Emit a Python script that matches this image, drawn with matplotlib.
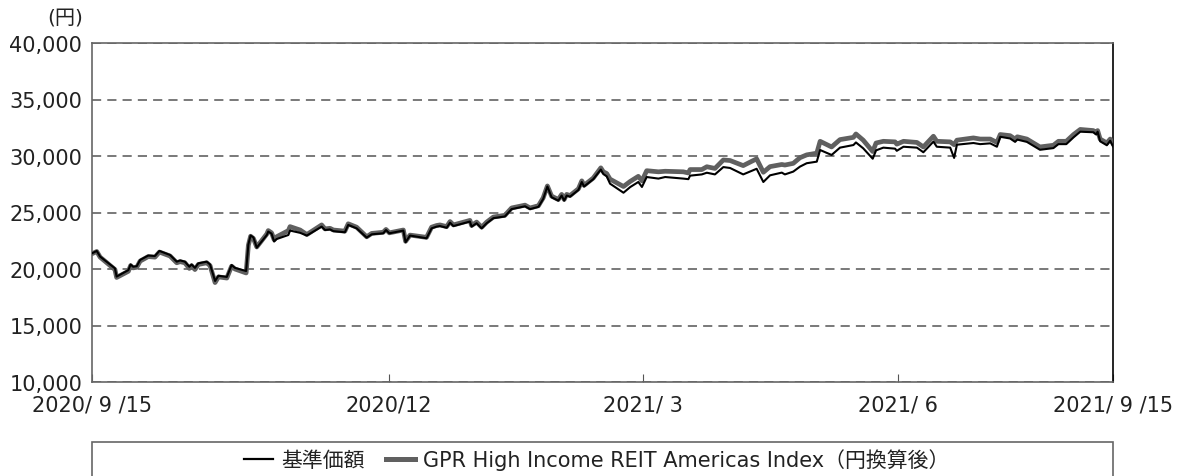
import matplotlib.pyplot as plt
from matplotlib.patches import Rectangle
from matplotlib.lines import Line2D

plt.rcParams['font.family'] = ['DejaVu Sans', 'Noto Sans CJK JP']

# days since 2020/9/15 (axis runs 0..365)
days = [0, 1.7, 2.9, 8.2, 8.8, 13.0, 13.8, 14.7, 16.0, 17.2, 20.1, 22.5, 24.1,
        27.9, 30.3, 31.5, 33.2, 34.8, 35.6, 36.8, 38.0, 41.0, 42.2, 44.0, 45.2,
        48.2, 49.9, 51.1, 55.1, 55.9, 56.7, 57.7, 58.9, 62.5, 63.0, 64.2, 65.1,
        66.0, 70.2, 70.8, 74.4, 76.8, 82.1, 83.3, 85.1, 86.3, 90.4, 91.6, 94.6,
        98.2, 100.0, 104.1, 105.1, 106.3, 111.3, 112.1, 113.7, 119.6, 121.4,
        123.2, 124.4, 126.8, 128.0, 129.2, 135.1, 135.7, 137.5, 139.3, 141.1,
        143.5, 147.6, 150.0, 154.8, 156.6, 159.6, 161.3, 162.8, 164.3, 166.7,
        167.9, 168.8, 169.7, 170.9, 173.9, 175.1, 175.9, 179.2, 181.9, 182.8,
        184.0, 185.2, 190.0, 192.4, 195.3, 196.6, 198.3, 202.5, 204.9, 211.4,
        213.2, 213.8, 218.0, 219.8, 222.7, 225.7, 228.1, 232.8, 237.6, 240.0,
        242.4, 246.6, 247.7, 250.7, 253.1, 255.5, 259.1, 260.3, 264.4, 267.4,
        272.2, 273.1, 275.7, 279.1, 280.3, 282.9, 287.1, 287.7, 290.1, 294.9,
        297.2, 300.8, 302.0, 306.8, 308.2, 309.2, 315.1, 317.5, 321.1, 323.5,
        324.7, 328.2, 330.0, 330.8, 334.2, 338.9, 343.7, 345.5, 348.3, 350.9,
        353.3, 358.0, 359.0, 359.5, 360.4, 362.8, 364.0, 365.0]

nav = [21390, 21600, 21100, 20060, 19330, 19900, 20400, 20200, 20250, 20800,
       21190, 21150, 21600, 21240, 20650, 20760, 20650, 20200, 20400, 20100,
       20500, 20650, 20400, 18940, 19400, 19300, 20350, 20100, 19820, 22190,
       22960, 22800, 21890, 23010, 23310, 23130, 22430, 22650, 23010, 23400,
       23200, 22960, 23750, 23450, 23500, 23350, 23250, 23900, 23600, 22780,
       23070, 23160, 23450, 23160, 23400, 22370, 22960, 22720, 23600, 23750,
       23800, 23650, 24100, 23800, 24200, 23750, 24050, 23600, 24050, 24500,
       24650, 25300, 25550, 25300, 25500, 26200, 27300, 26350, 26050, 26500,
       26050, 26500, 26400, 27000, 27700, 27300, 27950, 28800, 28400, 28200,
       27550, 26750, 27250, 27700, 27260, 28140, 28000, 28140, 28000, 27950,
       28260, 28370, 28520, 28370, 29020, 28940, 28370, 28870, 27700, 28290,
       28530, 28370, 28620, 29060, 29360, 29500, 30530, 30090, 30740, 30970,
       31200, 30680, 29760, 30500, 30740, 30650, 30460, 30820, 30740, 30330,
       31270, 30820, 30740, 29830, 31000, 31150, 31050, 31120, 30820, 31700,
       31550, 31250, 31450, 31250, 30550, 30700, 31050, 31050, 31650, 32150,
       32100, 31900, 32150, 31300, 30950, 31350, 30850]

index = [21350, 21550, 21050, 19950, 19250, 19800, 20300, 20100, 20150, 20700,
         21100, 21050, 21500, 21150, 20550, 20650, 20550, 20050, 20300, 19950,
         20400, 20550, 20300, 18800, 19300, 19200, 20250, 20000, 19650, 22100,
         22900, 22700, 21950, 23100, 23400, 23200, 22600, 22850, 23400, 23750,
         23450, 23050, 23900, 23550, 23600, 23450, 23350, 24000, 23700, 22850,
         23150, 23250, 23500, 23200, 23450, 22450, 23000, 22800, 23700, 23850,
         23900, 23750, 24200, 23900, 24300, 23850, 24150, 23700, 24150, 24600,
         24750, 25400, 25650, 25400, 25600, 26300, 27350, 26450, 26150, 26600,
         26150, 26600, 26500, 27100, 27800, 27400, 28050, 28950, 28600, 28450,
         27950, 27300, 27750, 28200, 27800, 28700, 28600, 28650, 28600, 28500,
         28800, 28800, 29050, 28900, 29650, 29600, 29150, 29750, 28560, 29060,
         29250, 29200, 29350, 29850, 30100, 30250, 31300, 30800, 31450, 31650,
         31950, 31400, 30400, 31150, 31300, 31250, 31050, 31300, 31200, 30800,
         31750, 31300, 31250, 31000, 31400, 31600, 31500, 31500, 31200, 31900,
         31800, 31500, 31700, 31500, 30800, 30950, 31300, 31300, 31900, 32350,
         32250, 32050, 32250, 31500, 31150, 31500, 31100]

tick_days = [0, 106, 197, 288, 365]
tick_labels = ['2020/ 9 /15', '2020/12', '2021/ 3', '2021/ 6', '2021/ 9 /15']
y_ticks = [10000, 15000, 20000, 25000, 30000, 35000, 40000]

fig = plt.figure(figsize=(11.88, 4.77), dpi=100)
ax = fig.add_axes([92 / 1188, 94 / 477, 1021 / 1188, 339 / 477])

ax.plot(days, index, color='#606060', lw=3.4, zorder=3)
ax.plot(days, nav, color='black', lw=1.5, zorder=4)

ax.set_xlim(0, 365)
ax.set_ylim(10000, 40000)
ax.set_yticks(y_ticks)
ax.set_yticklabels([f'{v:,}' for v in y_ticks])
ax.set_xticks(tick_days)
ax.set_xticklabels(tick_labels)
ax.tick_params(axis='y', length=0, pad=7, labelsize=15, labelcolor='#222222')
ax.tick_params(axis='x', direction='in', length=6, color='#555555', pad=9,
               labelsize=15, labelcolor='#222222')
ax.yaxis.grid(True, color='#555555', lw=1.1, ls=(0, (6, 4)))
ax.set_axisbelow(True)

for side in ['left', 'bottom', 'top']:
    ax.spines[side].set_color('#666666')
    ax.spines[side].set_linewidth(1.2)
ax.spines['right'].set_color('black')
ax.spines['right'].set_linewidth(1.2)

fig.text(65 / 1188, 1 - 18 / 477, '(円)', ha='center', va='center',
         fontsize=14.5, color='#222222')

# legend box (runs off the bottom edge)
fig.add_artist(Rectangle((92 / 1188, -0.2), 1021 / 1188, 0.2 + 34 / 477,
                         transform=fig.transFigure, fill=False,
                         edgecolor='#666666', lw=1.2))
handles = [Line2D([], [], color='black', lw=1.6),
           Line2D([], [], color='#606060', lw=3.6)]
fig.legend(handles, ['基準価額', 'GPR High Income REIT Americas Index（円換算後）'],
           loc='center', bbox_to_anchor=(597 / 1188, 17 / 477), ncol=2,
           frameon=False, fontsize=15, handlelength=1.4, handletextpad=0.4,
           columnspacing=1.0, borderpad=0, labelcolor='#222222')

fig.savefig('out.png', dpi=100)
